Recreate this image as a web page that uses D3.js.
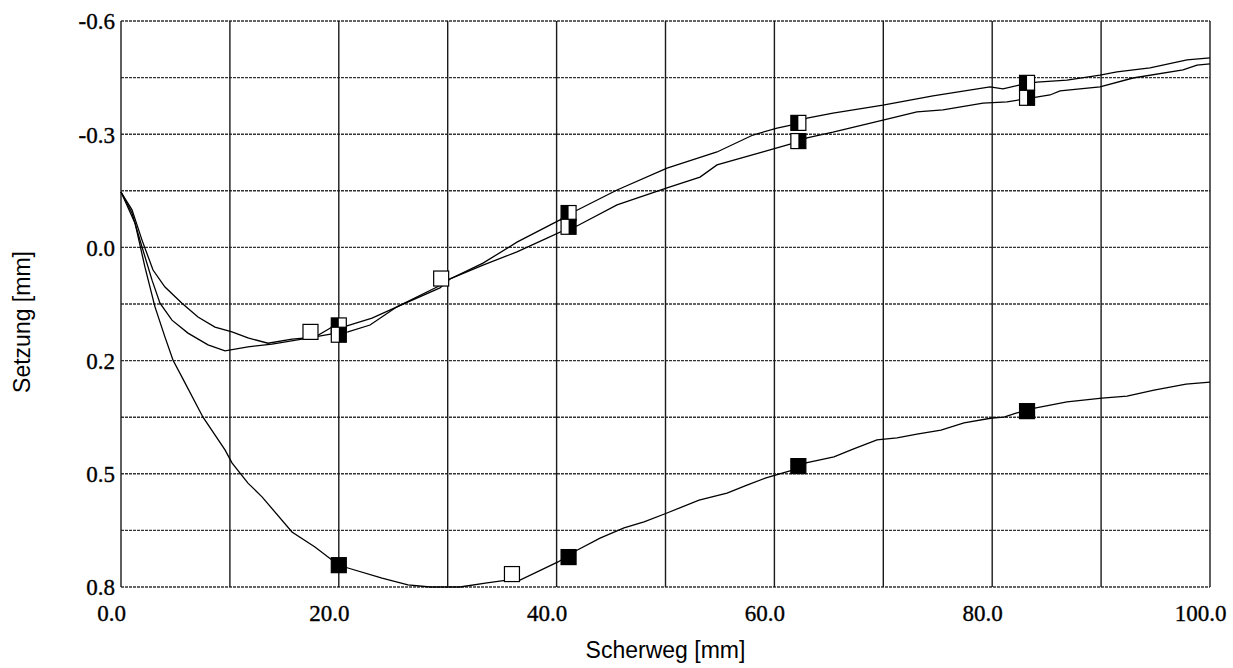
<!DOCTYPE html>
<html>
<head>
<meta charset="utf-8">
<script src="https://cdn.jsdelivr.net/npm/d3@7"></script>
<style>
  html, body { margin: 0; padding: 0; background: #fff; }
  svg { display: block; }
</style>
</head>
<body>
<svg id="chart" width="1233" height="668"></svg>
<script>
// ---- data ----
const xTickValues = [0, 20, 40, 60, 80, 100];
const xTickLabels = ["0.0", "20.0", "40.0", "60.0", "80.0", "100.0"];
const yTickValues = [-0.6, -0.32, -0.04, 0.24, 0.52, 0.8];
const yTickLabels = ["-0.6", "-0.3", "0.0", "0.2", "0.5", "0.8"];
const xGridValues = [0, 10, 20, 30, 40, 50, 60, 70, 80, 90, 100];
const yGridValues = [-0.6, -0.46, -0.32, -0.18, -0.04, 0.1, 0.24, 0.38, 0.52, 0.66, 0.8];

// curve with deep settlement (lower curve)
const curveLower = [
  [0,-0.177],[1.29,-0.100],[2.20,0.009],[3.12,0.107],[4.04,0.182],[4.78,0.239],
  [5.60,0.281],[7.53,0.380],[9.55,0.461],[10.19,0.493],[11.66,0.543],[12.95,0.577],
  [15.70,0.664],[17.81,0.701],[20.0,0.746],[20.84,0.753],[23.97,0.778],[26.35,0.795],
  [28.37,0.800],[31.13,0.800],[33.61,0.790],[35.45,0.783],[36.64,0.783],[40.13,0.738],
  [41.87,0.709],[43.99,0.679],[46.19,0.654],[48.03,0.639],[50.14,0.617],[53.08,0.585],
  [55.65,0.568],[57.48,0.548],[59.23,0.530],[61.43,0.513],[62.90,0.493],[65.47,0.478],
  [67.22,0.459],[69.42,0.436],[71.26,0.431],[73.09,0.422],[75.30,0.412],[77.41,0.394],
  [79.98,0.382],[81.08,0.380],[82.19,0.370],[84.02,0.357],[86.87,0.342],[90.08,0.333],
  [92.38,0.328],[94.86,0.313],[97.80,0.298],[100,0.293]
];

// upper pair, curve A (lower line on the right)
const curveA = [
  [0,-0.177],[1.01,-0.125],[1.93,-0.041],[2.85,0.041],[3.58,0.098],[4.68,0.140],
  [6.15,0.172],[7.99,0.201],[9.55,0.216],[11.66,0.206],[13.87,0.199],[16.62,0.187],
  [19.38,0.174],[20.84,0.169],[22.87,0.152],[25.34,0.107],[29.02,0.058],[30.21,0.038],
  [33.24,0.004],[36.36,-0.029],[39.12,-0.063],[41.14,-0.088],[41.87,-0.093],[45.55,-0.145],
  [50.14,-0.187],[53.17,-0.214],[54.73,-0.244],[58.95,-0.276],[60.24,-0.286],[62.17,-0.301],
  [63.00,-0.311],[65.38,-0.325],[69.97,-0.355],[73.09,-0.375],[75.48,-0.380],[79.16,-0.397],
  [81.36,-0.400],[83.20,-0.408],[85.31,-0.417],[86.23,-0.427],[89.90,-0.437],[92.93,-0.459],
  [97.52,-0.479],[98.81,-0.491],[100,-0.494]
];

// upper pair, curve B (upper line on the right)
const curveB = [
  [0,-0.177],[1.01,-0.133],[1.93,-0.058],[2.94,0.016],[4.04,0.058],[5.60,0.098],
  [7.07,0.132],[8.63,0.157],[10.19,0.169],[11.66,0.184],[13.50,0.197],[15.70,0.187],
  [17.81,0.182],[19.38,0.157],[20.75,0.154],[23.05,0.135],[25.34,0.107],[29.29,0.060],
  [30.21,0.038],[33.24,-0.001],[36.36,-0.053],[40.31,-0.108],[41.14,-0.122],[45.55,-0.182],
  [50.14,-0.236],[54.73,-0.276],[58.03,-0.318],[60.24,-0.335],[62.17,-0.346],[63.00,-0.360],
  [65.38,-0.372],[69.97,-0.392],[74.56,-0.415],[79.80,-0.437],[80.99,-0.432],[82.55,-0.442],
  [83.20,-0.445],[84.11,-0.449],[86.87,-0.454],[89.90,-0.466],[91.46,-0.474],[94.49,-0.484],
  [97.89,-0.504],[100,-0.509]
];

// markers
const markersFilled    = [[20.0,0.746],[41.1,0.726],[62.2,0.501],[83.2,0.365]];
const markersHalfLeft  = [[20.0,0.153],[41.1,-0.125],[62.2,-0.348],[83.2,-0.447]];
const markersHalfRight = [[20.0,0.176],[41.1,-0.091],[62.2,-0.303],[83.2,-0.410]];
const markersOpen      = [[17.4,0.169],[29.4,0.037],[35.9,0.768]];

const xTitle = "Scherweg [mm]";
const yTitle = "Setzung [mm]";

// ---- drawing ----
const svg = d3.select("#chart");
const x = d3.scaleLinear().domain([0, 100]).range([121, 1210]);
const y = d3.scaleLinear().domain([-0.6, 0.8]).range([21, 587]);

// horizontal grid
svg.append("g").selectAll("line").data(yGridValues).join("line")
  .attr("x1", x(0)).attr("x2", x(100))
  .attr("y1", d => y(d)).attr("y2", d => y(d))
  .attr("stroke", "#333").attr("stroke-width", 1.4)
  .attr("stroke-dasharray", "3,1");

// vertical grid
svg.append("g").selectAll("line").data(xGridValues).join("line")
  .attr("y1", y(-0.6)).attr("y2", y(0.8))
  .attr("x1", d => x(d)).attr("x2", d => x(d))
  .attr("stroke", "#1a1a1a").attr("stroke-width", 1.4);

// axes (labels only)
const serif = "'Liberation Serif', 'Times New Roman', serif";
const xAxis = d3.axisBottom(x).tickValues(xTickValues)
  .tickFormat((d, i) => xTickLabels[i]).tickSize(0).tickPadding(0);
const gx = svg.append("g").attr("transform", `translate(0,${y(0.8)})`).call(xAxis);
gx.select(".domain").remove();
gx.selectAll("text")
  .attr("font-family", serif).attr("font-size", 23).attr("fill", "#000")
  .attr("stroke", "#000").attr("stroke-width", 0.35)
  .attr("dx", -10).attr("y", 0).attr("dy", 34);

const yAxis = d3.axisLeft(y).tickValues(yTickValues)
  .tickFormat((d, i) => yTickLabels[i]).tickSize(0).tickPadding(0);
const gy = svg.append("g").attr("transform", `translate(${x(0) - 6},0)`).call(yAxis);
gy.select(".domain").remove();
gy.selectAll("text")
  .attr("font-family", serif).attr("font-size", 23).attr("fill", "#000")
  .attr("stroke", "#000").attr("stroke-width", 0.35)
  .attr("x", 0).attr("dy", "0.34em");

// curves
const line = d3.line().x(d => x(d[0])).y(d => y(d[1])).curve(d3.curveLinear);
[curveLower, curveA, curveB].forEach(c => {
  svg.append("path").datum(c).attr("d", line)
    .attr("fill", "none").attr("stroke", "#000").attr("stroke-width", 1.3);
});

// markers
const S = 15;
function drawMarkers(data, kind) {
  const g = svg.append("g");
  data.forEach(d => {
    const cx = x(d[0]), cy = y(d[1]);
    g.append("rect").attr("x", cx - S/2).attr("y", cy - S/2)
      .attr("width", S).attr("height", S)
      .attr("fill", kind === "filled" ? "#000" : "#fff")
      .attr("stroke", "#000").attr("stroke-width", 1.2);
    if (kind === "halfL" || kind === "halfR") {
      g.append("rect")
        .attr("x", kind === "halfL" ? cx - S/2 : cx)
        .attr("y", cy - S/2).attr("width", S/2).attr("height", S)
        .attr("fill", "#000");
    }
  });
}
drawMarkers(markersOpen, "open");
drawMarkers(markersFilled, "filled");
drawMarkers(markersHalfLeft, "halfL");
drawMarkers(markersHalfRight, "halfR");

// titles
const sans = "'Liberation Sans', Arial, sans-serif";
svg.append("text").attr("x", (x(0) + x(100)) / 2).attr("y", 658)
  .attr("text-anchor", "middle")
  .attr("font-family", sans).attr("font-size", 23).attr("fill", "#000").text(xTitle);

svg.append("text")
  .attr("transform", `translate(30,${(y(-0.6) + y(0.8)) / 2 + 18}) rotate(-90)`)
  .attr("text-anchor", "middle")
  .attr("font-family", sans).attr("font-size", 23).attr("fill", "#000").text(yTitle);
</script>
</body>
</html>
